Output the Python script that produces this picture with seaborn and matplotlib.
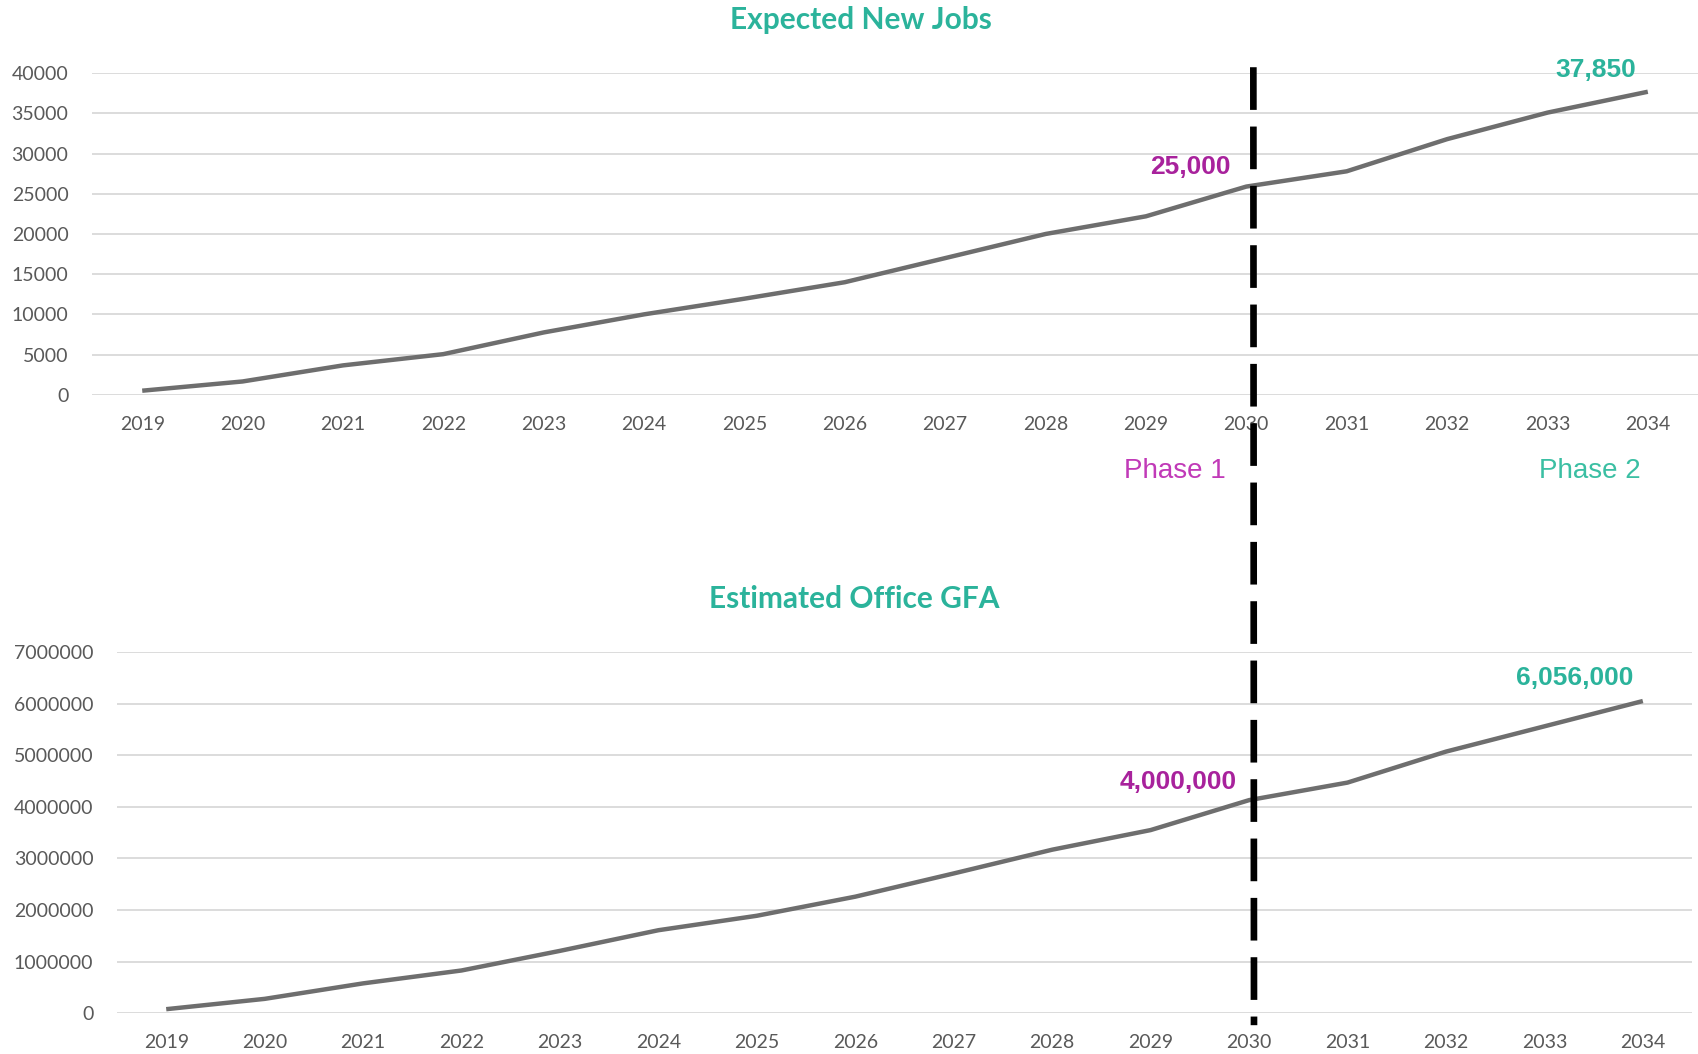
import pandas as pd
import matplotlib.pyplot as plt
import seaborn as sns
from matplotlib.patches import ConnectionPatch
from matplotlib.ticker import FuncFormatter, MultipleLocator

years = [str(y) for y in range(2019, 2035)]
jobs = [500, 1650, 3650, 5050, 7750, 10000, 11950, 14000,
        17000, 20000, 22200, 25900, 27800, 31800, 35100, 37700]
gfa = [80000, 280000, 580000, 830000, 1210000, 1610000, 1890000, 2260000,
       2710000, 3170000, 3550000, 4130000, 4470000, 5070000, 5560000, 6050000]

jobs_titles = "Expected New Jobs"
gfa_title = "Estimated Office GFA"
phase_year = "2030"
jobs_phase1, jobs_phase2 = "25,000", "37,850"
gfa_phase1, gfa_phase2 = "4,000,000", "6,056,000"

TEAL = "#2bb39b"
PURPLE = "#a8229c"
LINE = "#6e6e6e"
GRID = "#d9d9d9"
TICK = "#595959"

df = pd.DataFrame({"year": years, "jobs": jobs, "gfa": gfa})

sns.set_style("white")
plt.rcParams["font.family"] = ["Lato", "DejaVu Sans"]

fig = plt.figure(figsize=(16.98, 10.54), dpi=100)
ax1 = fig.add_axes([0.0542, 0.6255, 0.9458, 0.305])
ax2 = fig.add_axes([0.0689, 0.0386, 0.9276, 0.3428])

for ax, col, top, step in [(ax1, "jobs", 40000, 5000), (ax2, "gfa", 7000000, 1000000)]:
    sns.lineplot(data=df, x="year", y=col, ax=ax, color=LINE, linewidth=3.2,
                 solid_joinstyle="round", solid_capstyle="butt", sort=False)
    ax.set_xlim(-0.5, len(years) - 0.5)
    ax.set_ylim(0, top)
    ax.yaxis.set_major_locator(MultipleLocator(step))
    ax.yaxis.set_major_formatter(FuncFormatter(lambda v, p: f"{int(v)}"))
    ax.grid(axis="y", color=GRID, linewidth=1.3)
    ax.grid(axis="x", visible=False)
    ax.set_axisbelow(True)
    for s in ax.spines.values():
        s.set_visible(False)
    ax.set_xlabel("")
    ax.set_ylabel("")
    ax.tick_params(axis="y", length=0, pad=17, labelsize=14, labelcolor=TICK)
    ax.tick_params(axis="x", length=0, pad=15, labelsize=14, labelcolor=TICK)

ax1.set_title(jobs_titles, color=TEAL, fontsize=21.5, fontweight="bold", pad=32, x=0.479)
ax2.set_title(gfa_title, color=TEAL, fontsize=21.5, fontweight="bold", pad=32, x=0.468)

i30 = years.index(phase_year)
lab = dict(fontsize=19, fontweight="bold", family=["Liberation Sans", "DejaVu Sans"],
           ha="center", va="center", textcoords="offset pixels")
ax1.annotate(jobs_phase1, (i30, jobs[i30]), xytext=(-56, 20), color=PURPLE, **lab)
ax1.annotate(jobs_phase2, (len(years) - 1, jobs[-1]), xytext=(-52, 22), color=TEAL, **lab)
ax2.annotate(gfa_phase1, (i30, gfa[i30]), xytext=(-71, 18), color=PURPLE, **lab)
ax2.annotate(gfa_phase2, (len(years) - 1, gfa[-1]), xytext=(-68, 23), color=TEAL, **lab)

# dashed divider between phases, running through both charts
con = ConnectionPatch(xyA=(i30 + 0.07, 40750), coordsA=ax1.transData,
                      xyB=(i30 + 0.05, -230000), coordsB=ax2.transData,
                      color="black", linewidth=4.8, linestyle=(0, (6.4, 2.5)),
                      capstyle="butt")
fig.add_artist(con)

fig.text(0.692, 0.553, "Phase 1", color="#c13ab8", fontsize=20,
         family=["Liberation Sans", "DejaVu Sans"], ha="center", va="center")
fig.text(0.936, 0.553, "Phase 2", color="#3bbfa3", fontsize=20,
         family=["Liberation Sans", "DejaVu Sans"], ha="center", va="center")

fig.savefig("out.png", dpi=100)
